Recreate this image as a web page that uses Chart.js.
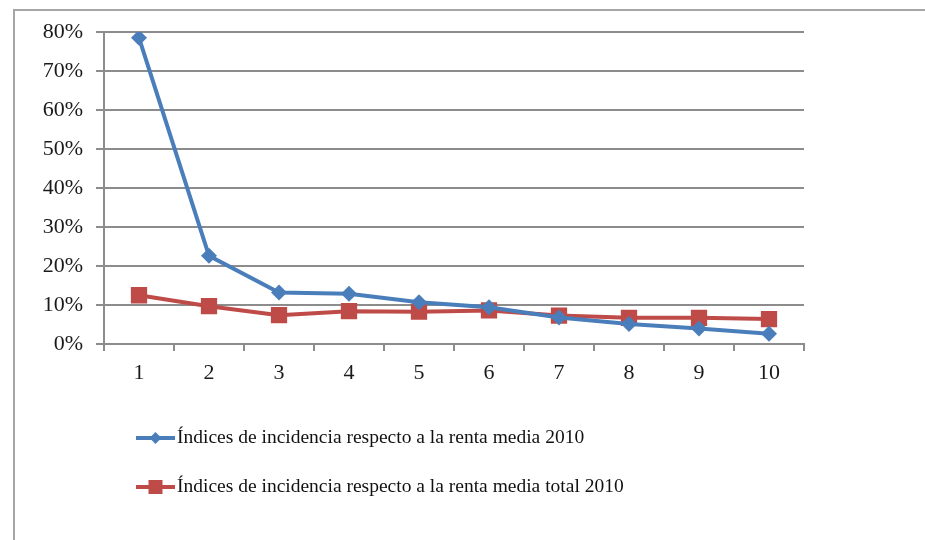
<!DOCTYPE html>
<html>
<head>
<meta charset="utf-8">
<script src="https://cdn.jsdelivr.net/npm/chart.js@4.4.1/dist/chart.umd.min.js"></script>
<style>
  html, body { margin: 0; padding: 0; background: #fff; }
  #wrap { position: relative; width: 925px; height: 540px; }
</style>
</head>
<body>
<div id="wrap"><canvas id="chart" width="925" height="540"></canvas></div>
<script>
'use strict';

// ------------------------------- Data ------------------------------//
const deciles = ['1', '2', '3', '4', '5', '6', '7', '8', '9', '10'];
const seriesNames = [
  'Índices de incidencia respecto a la renta media 2010',
  'Índices de incidencia respecto a la renta media total 2010'
];
const rentaMedia = [78.5, 22.6, 13.2, 12.9, 10.7, 9.4, 6.8, 5.1, 4.0, 2.6];
const rentaMediaTotal = [12.5, 9.7, 7.4, 8.4, 8.3, 8.6, 7.3, 6.7, 6.7, 6.4];
const yTicks = [0, 10, 20, 30, 40, 50, 60, 70, 80];

// ------------------------------- Styles ------------------------------//
const blue = '#4a7ebb';
const red = '#be4b48';
const gridColor = '#8c8c8c';
const serif = '"Liberation Serif", "DejaVu Serif", serif';

// frame around the chart (top + left edge like the original screenshot)
const framePlugin = {
  id: 'frame',
  beforeDraw(chart) {
    const ctx = chart.ctx;
    ctx.save();
    ctx.strokeStyle = '#a6a6a6';
    ctx.lineWidth = 2;
    ctx.beginPath();
    ctx.moveTo(14, 540);
    ctx.lineTo(14, 10);
    ctx.lineTo(925, 10);
    ctx.stroke();
    ctx.restore();
  }
};

// legend drawn under the chart, two rows, line + marker
const legendPlugin = {
  id: 'lineLegend',
  afterDraw(chart) {
    const ctx = chart.ctx;
    const rows = [438, 487];
    ctx.save();
    chart.data.datasets.forEach(function (ds, i) {
      const y = rows[i];
      const x0 = 136;
      const x1 = 175;
      const cx = (x0 + x1) / 2;
      ctx.strokeStyle = ds.borderColor;
      ctx.lineWidth = 4;
      ctx.beginPath();
      ctx.moveTo(x0, y);
      ctx.lineTo(x1, y);
      ctx.stroke();
      ctx.fillStyle = ds.borderColor;
      ctx.beginPath();
      if (ds.pointStyle === 'rectRot') {
        ctx.moveTo(cx, y - 6);
        ctx.lineTo(cx + 6, y);
        ctx.lineTo(cx, y + 6);
        ctx.lineTo(cx - 6, y);
        ctx.closePath();
      } else {
        ctx.rect(cx - 7, y - 7, 14, 14);
      }
      ctx.fill();
      ctx.fillStyle = '#111';
      ctx.font = '19.5px ' + serif;
      ctx.textBaseline = 'middle';
      ctx.textAlign = 'left';
      ctx.fillText(ds.label, 177, y);
    });
    ctx.restore();
  }
};

const ctx = document.getElementById('chart').getContext('2d');
const incidenciaChart = new Chart(ctx, {
  type: 'line',
  data: {
    labels: deciles,
    datasets: [{
      label: seriesNames[0],
      data: rentaMedia,
      borderColor: blue,
      backgroundColor: blue,
      borderWidth: 4,
      pointStyle: 'rectRot',
      pointRadius: 8,
      pointHoverRadius: 8,
      pointBorderWidth: 0,
      tension: 0
    }, {
      label: seriesNames[1],
      data: rentaMediaTotal,
      borderColor: red,
      backgroundColor: red,
      borderWidth: 4,
      pointStyle: 'rect',
      pointRadius: 11.5,
      pointHoverRadius: 11.5,
      pointBorderWidth: 0,
      tension: 0
    }]
  },
  options: {
    responsive: false,
    animation: false,
    layout: {
      padding: { left: 0, top: 32, right: 121, bottom: 150 }
    },
    plugins: {
      legend: { display: false },
      tooltip: { enabled: false }
    },
    scales: {
      x: {
        offset: true,
        grid: {
          offset: true,
          drawOnChartArea: false,
          drawTicks: true,
          tickLength: 7,
          color: gridColor,
          lineWidth: 2
        },
        border: { color: gridColor, width: 2 },
        ticks: {
          color: '#1a1a1a',
          font: { family: serif, size: 22 },
          padding: 9,
          maxRotation: 0
        },
        afterFit(scale) { scale.height = 46; }
      },
      y: {
        min: 0,
        max: 80,
        afterBuildTicks(scale) {
          scale.ticks = yTicks.map(v => ({ value: v }));
        },
        grid: {
          color: gridColor,
          lineWidth: 2,
          tickLength: 8
        },
        border: { color: gridColor, width: 2 },
        ticks: {
          color: '#1a1a1a',
          font: { family: serif, size: 22 },
          padding: 13,
          callback: v => v + '%'
        },
        afterFit(scale) { scale.width = 104; }
      }
    }
  },
  plugins: [framePlugin, legendPlugin]
});
</script>
</body>
</html>
